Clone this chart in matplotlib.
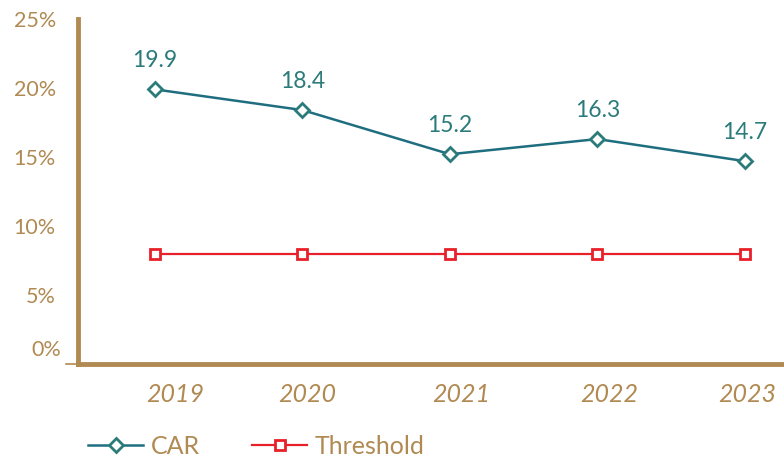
import matplotlib.pyplot as plt
import numpy as np

years = ["2019", "2020", "2021", "2022", "2023"]
car = [19.9, 18.4, 15.2, 16.3, 14.7]
threshold = [8, 8, 8, 8, 8]
yticks = [0, 5, 10, 15, 20, 25]

gold = "#B08A52"
teal = "#1F6E80"
teal_txt = "#2B7B7A"
red = "#E8202A"

plt.rcParams['font.family'] = ['Lato', 'DejaVu Sans']

fig = plt.figure(figsize=(7.84, 4.59), dpi=100)
ax = fig.add_axes([78/784, 95/459, 706/784, 345/459])

x = np.arange(len(years))
ax.plot(x, car, color=teal, lw=1.8, marker="D", ms=7, mfc="white",
        mec=teal_txt, mew=2, label="CAR", zorder=3)
ax.plot(x, threshold, color=red, lw=1.6, marker="s", ms=7, mfc="white",
        mec=red, mew=2, label="Threshold", zorder=3)

for xi, v in zip(x, car):
    ax.annotate(f"{v}", (xi, v), xytext=(0, 13), textcoords="offset points",
                ha="center", va="bottom", fontsize=16.5, color=teal_txt)

ax.set_xlim(-0.522, 4.265)
ax.set_ylim(0, 25)
# labels sit a little right of the points in the original
ax.set_xticks(x + np.array([0.14, 0.03, 0.075, 0.08, 0.015]))
ax.set_xticklabels(years, fontsize=18, style="italic", color=gold)
ax.set_yticks(yticks)
ax.set_yticklabels([""] + [f"{t}%" for t in yticks[1:]], fontsize=15.5, color=gold)
ax.annotate("0%", (0, 0), xycoords=("axes fraction", "data"), xytext=(-12, 10),
            textcoords="offset points", ha="right", va="center",
            fontsize=15.5, color=gold)
ax.plot([-0.017, 0], [0, 0], color=gold, lw=1.2, clip_on=False,
        transform=ax.get_yaxis_transform())
ax.tick_params(axis="x", length=0, pad=14)
ax.tick_params(axis="y", length=0, pad=16)

for s in ["top", "right"]:
    ax.spines[s].set_visible(False)
for s in ["left", "bottom"]:
    ax.spines[s].set_color(gold)
    ax.spines[s].set_linewidth(3.5)
ax.spines["bottom"].set_capstyle("projecting")

fig.legend(loc="center left", bbox_to_anchor=(78/784, 13/459), ncol=2,
           frameon=False, fontsize=18, labelcolor=gold, handlelength=2.2,
           handletextpad=0.3, columnspacing=2.1, borderaxespad=0)

fig.savefig("out.png", dpi=100)
